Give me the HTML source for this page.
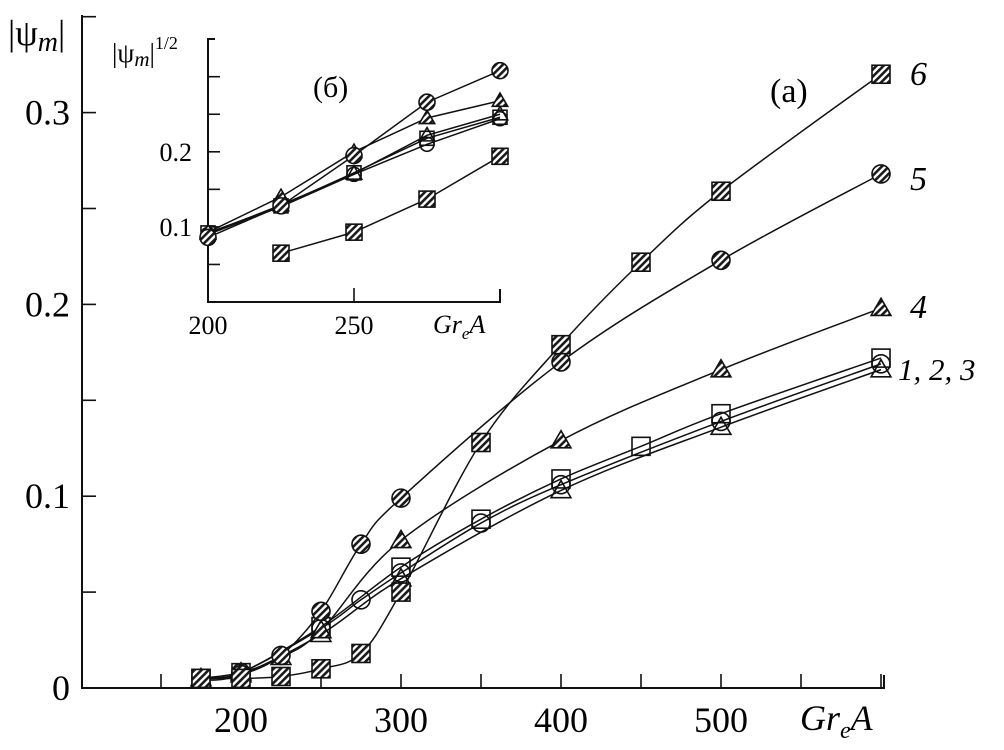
<!DOCTYPE html>
<html><head><meta charset="utf-8">
<style>
html,body{margin:0;padding:0;background:#fff;}
svg{display:block;font-family:"Liberation Serif","DejaVu Serif",serif;}
</style></head>
<body>
<svg id="chart" width="1004" height="750" viewBox="0 0 1004 750">
<defs>
<pattern id="hatch" patternUnits="userSpaceOnUse" width="5" height="5" patternTransform="rotate(45)">
<rect width="5" height="5" fill="#fff"/><rect width="2.6" height="5" fill="#1a1a1a"/>
</pattern>
</defs>
<g id="main"></g>
<g id="inset"></g>
</svg>
<script>
// ---- main chart data ----
const mainX6 = [175,200,225,250,275,300,350,400,450,500,600];
const mainY6 = [0.005,0.005,0.006,0.010,0.018,0.050,0.128,0.179,0.222,0.259,0.320];
const mainX5 = [175,200,225,250,275,300,400,500,600];
const mainY5 = [0.005,0.007,0.017,0.040,0.075,0.099,0.170,0.223,0.268];
const mainX4 = [175,200,225,250,300,400,500,600];
const mainY4 = [0.005,0.008,0.016,0.030,0.077,0.129,0.166,0.198];
const mainX1 = [175,200,250,300,350,400,450,500,600];
const mainY1 = [0.005,0.008,0.032,0.063,0.088,0.109,0.126,0.143,0.172];
const mainX2 = [175,200,250,275,300,350,400,500,600];
const mainY2 = [0.005,0.008,0.031,0.046,0.060,0.086,0.106,0.139,0.169];
const mainX3 = [175,200,250,300,400,500,600];
const mainY3 = [0.004,0.007,0.028,0.057,0.103,0.136,0.166];
const mainXTicks = [150,200,250,300,350,400,450,500,550,600];
const mainXLabels = [200,300,400,500];
const mainYTicks = [0.05,0.1,0.15,0.2,0.25,0.3];
const mainYLabels = ["0","0.1","0.2","0.3"];
// ---- inset data ----
const insX = [200,225,250,275,300];
const insY6 = [null,0.065,0.093,0.137,0.194];
const insY5 = [0.086,0.128,0.195,0.266,0.308];
const insY4 = [0.093,0.140,0.200,0.245,0.268];
const insY1 = [0.092,0.128,0.172,0.218,0.246];
const insY2 = [0.090,0.127,0.170,0.210,0.244];
const insY3 = [0.091,0.129,0.171,0.222,0.250];
const insYTicks = [0.05,0.1,0.15,0.2,0.25,0.3];

const NS="http://www.w3.org/2000/svg";
function mk(parent,tag,attrs){const e=document.createElementNS(NS,tag);for(const k in attrs)e.setAttribute(k,attrs[k]);parent.appendChild(e);return e;}

const M=document.getElementById('main');
const mx=v=>241+(v-200)*1.6;
const my=v=>688-v*1918;
let ax=mk(M,'path',{d:`M82 15 L82 688 L884 688 L884 675`,fill:'none',stroke:'#111','stroke-width':2});


mainXTicks.forEach(v=>{const t=mk(M,'line',{x1:mx(v),x2:mx(v),y1:688,y2:674,stroke:'#111','stroke-width':1.6});

});
mainYTicks.concat([0.35]).forEach(v=>{const t=mk(M,'line',{x1:82,x2:96,y1:my(v),y2:my(v),stroke:'#111','stroke-width':1.6});

});
mainXLabels.forEach(v=>{const t=mk(M,'text',{x:mx(v),y:732,'font-size':36,'text-anchor':'middle'});t.textContent=v;

});
mainYLabels.forEach((s,i)=>{const t=mk(M,'text',{x:70,y:my(i*0.1)+12,'font-size':36,'text-anchor':'end'});t.textContent=s;

});
let xt=mk(M,'text',{x:800,y:730,'font-size':36,'font-style':'italic'});
xt.innerHTML='Gr<tspan font-size="24" dy="8">e</tspan><tspan dy="-8">A</tspan>';


let yt=mk(M,'text',{x:8,y:45,'font-size':36});
yt.innerHTML='|ψ<tspan font-style="italic" font-size="28" dy="6">m</tspan><tspan dy="-6">|</tspan>';


let pa=mk(M,'text',{x:770,y:102,'font-size':34});pa.textContent='(а)';



function smooth(pts){let d=`M${pts[0][0]} ${pts[0][1]}`;
for(let i=0;i<pts.length-1;i++){const p0=pts[i-1]||pts[i],p1=pts[i],p2=pts[i+1],p3=pts[i+2]||p2;
const c1=[p1[0]+(p2[0]-p0[0])/6,p1[1]+(p2[1]-p0[1])/6],c2=[p2[0]-(p3[0]-p1[0])/6,p2[1]-(p3[1]-p1[1])/6];
d+=` C${c1[0]} ${c1[1]} ${c2[0]} ${c2[1]} ${p2[0]} ${p2[1]}`;}return d;}

function marker(g,type,x,y,s,fill){let e;
if(type==='sq')e=mk(g,'rect',{x:x-s,y:y-s,width:2*s,height:2*s,fill,stroke:'#111','stroke-width':1.6});
else if(type==='ci')e=mk(g,'circle',{cx:x,cy:y,r:s,fill,stroke:'#111','stroke-width':1.6});
else if(type==='tr')e=mk(g,'path',{d:`M${x} ${y-s*1.1} L${x+s*1.1} ${y+s*0.8} L${x-s*1.1} ${y+s*0.8}Z`,fill,stroke:'#111','stroke-width':1.6});

}

function series(parent,name,xs,ys,fx,fy,type,fill,s,curve){
const g=mk(parent,'g',{});


const pts=[];xs.forEach((x,i)=>{if(ys[i]!=null)pts.push([fx(x),fy(ys[i])]);});
mk(g,'path',{d:curve?smooth(pts):'M'+pts.map(p=>p.join(' ')).join(' L'),fill:'none',stroke:'#111','stroke-width':1.5});
pts.forEach(p=>marker(g,type,p[0],p[1],s,fill));}

series(M,'series-1',mainX1,mainY1,mx,my,'sq','none',9,true);
series(M,'series-3',mainX3,mainY3,mx,my,'tr','none',9,true);
series(M,'series-2',mainX2,mainY2,mx,my,'ci','none',9,true);
series(M,'series-4',mainX4,mainY4,mx,my,'tr','url(#hatch)',9,true);
series(M,'series-5',mainX5,mainY5,mx,my,'ci','url(#hatch)',9,true);
series(M,'series-6',mainX6,mainY6,mx,my,'sq','url(#hatch)',9,true);
[['6',910,85,34],['5',910,190,34],['4',910,318,34],['1, 2, 3',898,380,31]].forEach(a=>{
const t=mk(M,'text',{x:a[1],y:a[2],'font-size':a[3],'font-style':'italic'});t.textContent=a[0];

});

// ---- inset ----
const I=document.getElementById('inset');
const ix=v=>208+(v-200)*2.92;
const iy=v=>302-v*751;
let iax=mk(I,'path',{d:'M215 39 L208 39 L208 302 L500 302 L500 289',fill:'none',stroke:'#111','stroke-width':2});


[250].forEach(v=>{const t=mk(I,'line',{x1:ix(v),x2:ix(v),y1:302,y2:288,stroke:'#111','stroke-width':1.6});

});
insYTicks.forEach(v=>{const t=mk(I,'line',{x1:208,x2:220,y1:iy(v),y2:iy(v),stroke:'#111','stroke-width':1.6});

});
[200,250].forEach(v=>{const t=mk(I,'text',{x:ix(v),y:334,'font-size':26,'text-anchor':'middle'});t.textContent=v;

});
[[0.1,'0.1'],[0.2,'0.2']].forEach(a=>{const t=mk(I,'text',{x:192,y:iy(a[0])+9,'font-size':26,'text-anchor':'end'});t.textContent=a[1];

});
let ixt=mk(I,'text',{x:433,y:333,'font-size':26,'font-style':'italic'});
ixt.innerHTML='Gr<tspan font-size="17" dy="6">e</tspan><tspan dy="-6">A</tspan>';


let iyt=mk(I,'text',{x:112,y:62,'font-size':27});
iyt.innerHTML='|ψ<tspan font-style="italic" font-size="21" dy="4">m</tspan><tspan dy="-4">|</tspan><tspan font-size="18" dy="-13">1/2</tspan>';


let pb=mk(I,'text',{x:313,y:97,'font-size':30});pb.textContent='(б)';


series(I,'inset-series-1',insX,insY1,ix,iy,'sq','none',7,false);
series(I,'inset-series-3',insX,insY3,ix,iy,'tr','none',7,false);
series(I,'inset-series-2',insX,insY2,ix,iy,'ci','none',7,false);
series(I,'inset-series-4',insX,insY4,ix,iy,'tr','url(#hatch)',7,false);
series(I,'inset-series-5',insX,insY5,ix,iy,'ci','url(#hatch)',8,false);
series(I,'inset-series-6',insX,insY6,ix,iy,'sq','url(#hatch)',8,false);
</script>
</body></html>
